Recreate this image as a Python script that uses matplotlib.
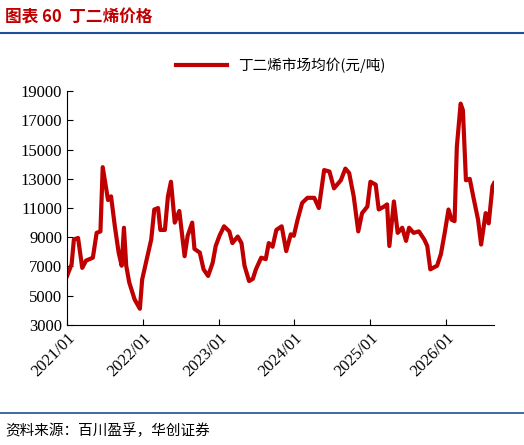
import matplotlib
matplotlib.use("Agg")
import matplotlib.pyplot as plt
import pandas as pd
from matplotlib.lines import Line2D

plt.rcParams['font.family'] = ['Noto Sans CJK SC', 'DejaVu Sans']

years_offset = [0, 0.06, 0.09, 0.145, 0.2, 0.25, 0.34, 0.39, 0.44, 0.47, 0.54, 0.58, 0.63, 0.68, 0.72, 0.75, 0.78, 0.82, 0.89, 0.96, 0.99,
                1.04, 1.11, 1.15, 1.2, 1.23, 1.29, 1.33, 1.37, 1.42, 1.48, 1.55, 1.59, 1.65, 1.68, 1.75, 1.8, 1.86, 1.92, 1.96,
                2.01, 2.07, 2.14, 2.18, 2.25, 2.3, 2.34, 2.4, 2.45, 2.49, 2.56, 2.62, 2.66, 2.71, 2.76, 2.83, 2.89, 2.95, 2.99,
                3.04, 3.1, 3.17, 3.26, 3.32, 3.39, 3.46, 3.52, 3.61, 3.67, 3.72, 3.78, 3.84, 3.89, 3.96,
                4.0, 4.07, 4.11, 4.18, 4.22, 4.25, 4.31, 4.36, 4.42, 4.47, 4.51, 4.57, 4.64, 4.71, 4.75, 4.79, 4.88, 4.93, 4.98,
                5.03, 5.07, 5.11, 5.14, 5.19, 5.22, 5.26, 5.31, 5.36, 5.42, 5.46, 5.52, 5.56, 5.61, 5.63]
prices = [6350, 7150, 8850, 8950, 6900, 7400, 7600, 9300, 9400, 13800, 11550, 11800, 9750, 7950, 7050, 9650, 7050, 5900, 4750, 4100, 6100,
          7250, 8850, 10900, 11000, 9500, 9500, 11800, 12800, 10000, 10800, 7700, 9100, 10000, 8200, 7950, 6800, 6350, 7250, 8400,
          9100, 9750, 9400, 8600, 9050, 8600, 7050, 6000, 6150, 6800, 7600, 7500, 8600, 8350, 9500, 9750, 8050, 9200, 9100,
          10200, 11350, 11700, 11700, 11000, 13600, 13500, 12350, 12900, 13700, 13400, 11800, 9400, 10650, 11100,
          12800, 12600, 10900, 11100, 11250, 8400, 11450, 9300, 9650, 8750, 9650, 9300, 9400, 8850, 8400, 6800, 7050, 7850, 9300,
          10900, 10200, 10100, 15200, 18150, 17700, 12900, 13000, 11700, 10200, 8500, 10650, 9950, 12500, 12700]
tick_labels = ["2021/01", "2022/01", "2023/01", "2024/01", "2025/01", "2026/01"]
yticks = list(range(3000, 19001, 2000))

dates = pd.Timestamp("2021-01-01") + pd.to_timedelta([y * 365.25 for y in years_offset], unit="D")

fig = plt.figure(figsize=(5.24, 4.45), dpi=100)
ax = fig.add_axes([0.128, 0.27, 0.815, 0.525])
red = "#C00000"
ax.plot(dates, prices, color=red, lw=3)
ax.set_ylim(3000, 19000)
ax.set_yticks(yticks)
ax.set_yticklabels([str(v) for v in yticks], family=["Liberation Serif"], fontsize=12)
ax.set_xlim(pd.Timestamp("2021-01-01"), pd.Timestamp("2026-08-20"))
tick_dates = [pd.Timestamp(t.replace("/", "-") + "-01") for t in tick_labels]
ax.set_xticks(tick_dates)
ax.set_xticklabels(tick_labels, rotation=45, ha="right", rotation_mode="anchor", fontsize=12,
                   family=["Liberation Serif"])
ax.tick_params(axis="y", direction="in", length=4)
ax.tick_params(axis="x", direction="in", length=4)
for s in ["top", "right"]:
    ax.spines[s].set_visible(False)
ax.legend([Line2D([0], [0], color=red, lw=3)], ["丁二烯市场均价(元/吨)"], loc="lower center",
          bbox_to_anchor=(0.5, 1.02), frameon=False, fontsize=10.5, handlelength=3.5)

fig.text(0.01, 0.96, "图表 60  丁二烯价格", color=red, fontsize=12, fontweight="bold", va="center")
fig.add_artist(Line2D([0.0, 1.0], [0.925, 0.925], color="#1F4E9A", lw=1.5))
fig.add_artist(Line2D([0.0, 1.0], [0.072, 0.072], color="#1F4E9A", lw=1.2))
fig.text(0.01, 0.033, "资料来源：百川盈孚，华创证券", fontsize=10.5, style="italic", va="center")
fig.savefig("out.png", dpi=100)
